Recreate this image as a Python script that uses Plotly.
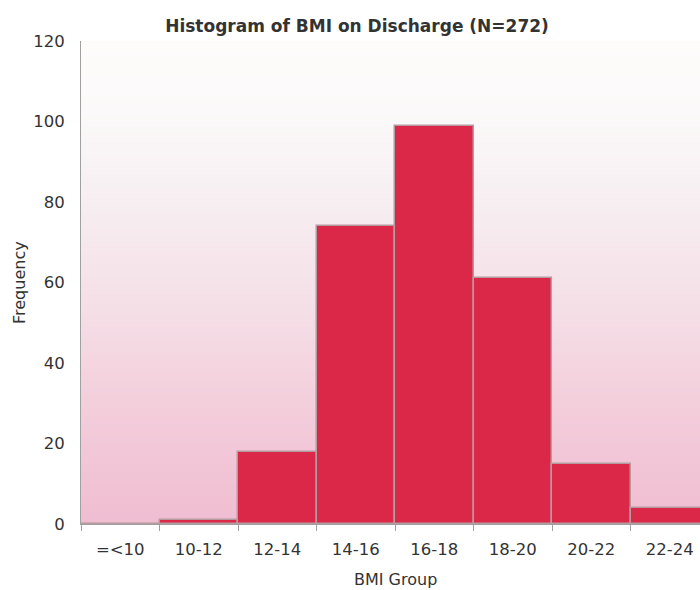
import plotly.graph_objects as go

# BMI on discharge, grouped counts
bmi_groups = ["=<10", "10-12", "12-14", "14-16", "16-18", "18-20", "20-22", "22-24"]
frequency = [0, 1, 18, 74, 99, 61, 15, 4]

title_text = "Histogram of BMI on Discharge (N=272)"
x_title = "BMI Group"
y_title = "Frequency"

BAR_COLOR = "#DC2848"
FONT = "DejaVu Sans"
TEXT_COLOR = "#333333"

fig = go.Figure()
fig.add_trace(go.Bar(
    x=bmi_groups,
    y=frequency,
    marker=dict(color=BAR_COLOR, line=dict(color="#b59a9f", width=1.5)),
    width=1.0,
    hoverinfo="x+y",
))

# Vertical white-to-pink gradient behind the bars (stops: fraction from top, rgb)
stops = [
    (0.00, (253, 252, 251)),
    (0.15, (251, 249, 249)),
    (0.35, (246, 237, 240)),
    (0.55, (245, 223, 231)),
    (0.75, (243, 206, 219)),
    (1.00, (240, 189, 209)),
]


def blend(t):
    for (t0, c0), (t1, c1) in zip(stops[:-1], stops[1:]):
        if t <= t1:
            f = (t - t0) / (t1 - t0)
            return tuple(round(c0[k] + (c1[k] - c0[k]) * f) for k in range(3))
    return stops[-1][1]


n_bands = 120
shapes = []
for i in range(n_bands):
    r, g, b = blend((i + 0.5) / n_bands)
    y1 = 1 - i / n_bands
    y0 = max(0.0, 1 - (i + 1) / n_bands - 0.004)
    shapes.append(dict(
        type="rect", xref="paper", yref="paper",
        x0=0, x1=1, y0=y0, y1=y1,
        fillcolor=f"rgb({r},{g},{b})", line=dict(width=0), layer="below",
    ))

fig.update_layout(
    width=700, height=590,
    margin=dict(l=81, r=0, t=41, b=66),
    paper_bgcolor="white",
    plot_bgcolor="rgba(0,0,0,0)",
    shapes=shapes,
    bargap=0,
    showlegend=False,
    font=dict(family=FONT, color=TEXT_COLOR),
    title=dict(
        text=f"<b>{title_text}</b>",
        font=dict(family=FONT, size=17, color=TEXT_COLOR),
        x=357 / 700, xref="container", xanchor="center",
        y=1 - 26 / 590, yref="container", yanchor="middle",
    ),
    xaxis=dict(
        type="category",
        range=[-0.5, -0.5 + 619 / 78.5],
        tickson="boundaries",
        ticks="outside", ticklen=6, tickcolor="#a0a0a0",
        showline=True, linecolor="#a0a0a0", linewidth=1,
        showgrid=False, zeroline=False,
        tickfont=dict(family=FONT, size=16.5, color=TEXT_COLOR),
        ticklabelstandoff=10,
    ),
    yaxis=dict(
        range=[0, 120],
        tickvals=[0, 20, 40, 60, 80, 100, 120],
        ticks="", showgrid=False, zeroline=False,
        showline=True, linecolor="#a0a0a0", linewidth=1,
        tickfont=dict(family=FONT, size=16.5, color=TEXT_COLOR),
        ticklabelstandoff=12,
    ),
    annotations=[
        dict(text=x_title, xref="paper", yref="paper",
             x=(395 - 81) / 619, y=-(579 - 524) / 483,
             xanchor="center", yanchor="middle", showarrow=False,
             font=dict(family=FONT, size=16, color=TEXT_COLOR)),
        dict(text=y_title, xref="paper", yref="paper",
             x=-(81 - 19) / 619, y=(524 - 283) / 483,
             xanchor="center", yanchor="middle", showarrow=False, textangle=-90,
             font=dict(family=FONT, size=16, color=TEXT_COLOR)),
    ],
)

fig.write_html("out.html")
